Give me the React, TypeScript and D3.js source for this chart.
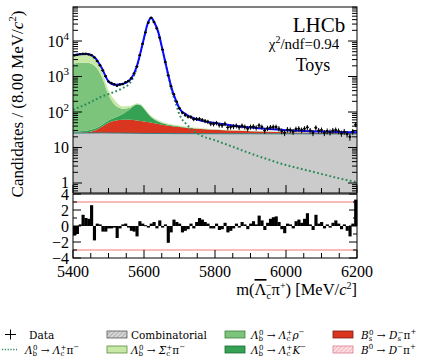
import React from "react";
import * as d3 from "d3";

// fit components, sampled along the mass axis (candidates / 8 MeV)
const curveMass = [5400, 5420, 5440, 5460, 5480, 5500, 5520, 5540, 5560, 5570, 5580, 5590, 5600, 5610, 5620, 5630, 5640, 5650, 5660, 5670, 5680, 5690, 5700, 5720, 5740, 5760, 5800, 5850, 5900, 5950, 6000, 6050, 6100, 6150, 6200];
const combinatorial = [24.8, 24.8, 24.7, 24.7, 24.7, 24.6, 24.6, 24.6, 24.6, 24.6, 24.5, 24.5, 24.5, 24.5, 24.5, 24.5, 24.5, 24.5, 24.5, 24.5, 24.4, 24.4, 24.4, 24.4, 24.4, 24.4, 24.3, 24.3, 24.3, 24.2, 24.2, 24.2, 24.1, 24.1, 24.1];
const b0ToDpi = [0.6, 0.7, 0.8, 0.9, 1.0, 1.0, 0.9, 0.8, 0.7, 0.6, 0.6, 0.5, 0.5, 0.4, 0.4, 0.4, 0.3, 0.3, 0.3, 0.3, 0.2, 0.2, 0.2, 0.2, 0.2, 0.1, 0.1, 0.1, 0.1, 0.1, 0.1, 0.1, 0.1, 0.1, 0.1];
const bsToDspi = [0.5, 0.8, 1.5, 4, 12, 24, 32, 35, 35, 34, 33, 31, 29, 27, 25, 23, 21, 19, 17.5, 16, 15, 14, 13, 11, 9.5, 8.5, 7, 5.5, 4.3, 3.4, 2.7, 2.1, 1.7, 1.4, 1.2];
const lbToLcK = [2, 2.5, 3, 4, 5, 8, 14, 28, 60, 85, 105, 100, 70, 40, 22, 13, 8, 5, 3.5, 2.5, 2, 1.5, 1.2, 1, 0.8, 0.6, 0.4, 0.3, 0.2, 0.2, 0.1, 0.1, 0.1, 0.1, 0.1];
const lbToLcRho = [2300, 2400, 2400, 2000, 1000, 250, 80, 35, 12, 8, 5, 4, 3, 2.5, 2, 1.6, 1.3, 1, 0.8, 0.7, 0.6, 0.5, 0.4, 0.3, 0.2, 0.2, 0.1, 0.1, 0.1, 0.1, 0.1, 0.1, 0.1, 0.1, 0.1];
const lbToScPi = [1500, 1700, 1700, 1300, 500, 100, 50, 20, 15, 10, 8, 7, 6, 5.5, 5, 4.5, 4, 3.6, 3.2, 2.9, 2.6, 2.4, 2.2, 1.8, 1.5, 1.3, 1, 0.8, 0.6, 0.5, 0.4, 0.3, 0.3, 0.2, 0.2];
const lbToLcPi = [115, 140, 170, 215, 270, 320, 380, 470, 650, 950, 1800, 4500, 12000, 30000, 45000, 32000, 18000, 7000, 2500, 900, 350, 170, 85, 45, 30, 22, 16, 10.5, 6.8, 4.6, 3.2, 2.4, 1.8, 1.35, 1.05];

// toy data, 100 bins of 8 MeV from 5400
const binStart = 5400;
const binWidth = 8;
const dataCounts = [
  3929, 4076, 4282, 4374, 4360, 4195, 3991, 3441, 2727, 2084,
  1483, 1025, 720, 657, 603, 551, 593, 618, 689, 751,
  893, 1223, 1918, 3991, 8307, 17463, 32594, 45121, 34398, 22669,
  12458, 5733, 2557, 1079, 534, 318, 195, 127, 96, 82,
  74, 72, 63, 64, 64, 60, 56, 53, 47, 46,
  49, 43, 42, 47, 37, 38, 39, 41, 37, 41,
  38, 34, 38, 39, 36, 42, 38, 30, 35, 37,
  38, 38, 34, 29, 26, 32, 31, 28, 33, 34,
  31, 34, 37, 30, 26, 36, 30, 31, 26, 29,
  27, 30, 31, 29, 25, 28, 24, 20, 28, 44,
];
const pulls = [
  -1.2, -1.0, 0.2, 1.4, 1.0, 0.9, 2.6, -1.8, 0.3, 0.2,
  -0.7, -0.7, -0.3, -0.3, -0.2, -1.5, -0.3, 0.2, 0.3, -0.2,
  -0.6, -0.7, -1.3, 0.6, 0.3, 0.1, -0.2, 0.3, 0.5, -0.3,
  0.7, -0.2, 0.2, -2.1, -0.8, 0.8, 0.5, 0.3, -0.8, -0.6,
  -0.4, 0.3, -0.3, 0.5, 1.0, 0.8, 0.5, 0.3, -0.3, -0.3,
  0.3, -0.5, -0.4, 0.4, -0.8, -0.6, -0.3, 0.3, -0.2, 0.5,
  0.2, -0.4, 0.3, 0.6, 0.2, 1.3, 0.7, -0.5, 0.4, 0.9,
  1.1, 1.2, 0.5, -0.4, -0.9, 0.3, 0.2, -0.3, 0.6, 0.8,
  0.4, 0.9, 1.6, 0.2, -0.5, 1.4, 0.3, 0.5, -0.3, 0.2,
  -0.2, 0.4, 0.7, 0.3, -0.4, 0.2, -0.6, -1.3, 0.3, 3.3,
];

const xTickLabels = [5400, 5600, 5800, 6000, 6200];
const yTickValues = [1, 10, 100, 1000, 10000];
const pullTickLabels = [-4, -2, 0, 2, 4];

const stackKeys = ["comb", "b0", "bs", "lcK", "rho", "scPi"];
const fillColors: Record<string, string> = {
  comb: "#cbcbcb",
  b0: "#f6b8c0",
  bs: "#d9351f",
  lcK: "#34a153",
  rho: "#7cc47c",
  scPi: "#c8e8a6",
};

const serif = "'Liberation Serif', 'Times New Roman', serif";
const legendFont = "'DejaVu Serif', serif";

export default function App() {
  const svgRef = React.useRef<SVGSVGElement>(null);
  const width = 430;
  const height = 364;
  const plot = { left: 73, right: 357, top: 7, bottom: 193 };
  const pullBox = { top: 194, bottom: 258 };

  React.useEffect(() => {
    const svg = d3.select(svgRef.current);
    svg.selectAll("*").remove();

    const x = d3.scaleLinear().domain([5400, 6200]).range([plot.left, plot.right]);
    const y = d3.scaleLog().domain([0.523, 90800]).range([plot.bottom, plot.top]);
    const yPull = d3.scaleLinear().domain([-4, 4]).range([pullBox.bottom, pullBox.top]);

    const defs = svg.append("defs");
    defs
      .append("clipPath")
      .attr("id", "mainClip")
      .append("rect")
      .attr("x", plot.left)
      .attr("y", plot.top)
      .attr("width", plot.right - plot.left)
      .attr("height", plot.bottom - plot.top);

    const hatch = (id: string, bg: string, fg: string) => {
      const p = defs
        .append("pattern")
        .attr("id", id)
        .attr("width", 3)
        .attr("height", 3)
        .attr("patternUnits", "userSpaceOnUse")
        .attr("patternTransform", "rotate(45)");
      p.append("rect").attr("width", 3).attr("height", 3).attr("fill", bg);
      p.append("line").attr("x1", 0).attr("y1", 0).attr("x2", 0).attr("y2", 3).attr("stroke", fg).attr("stroke-width", 1);
    };
    hatch("hatchGray", "#d6d6d6", "#8a8a8a");
    hatch("hatchPink", "#fde0e4", "#f08a98");

    /* stacked background components */
    const rows = curveMass.map((m, i) => ({
      m,
      comb: combinatorial[i],
      b0: b0ToDpi[i],
      bs: bsToDspi[i],
      lcK: lbToLcK[i],
      rho: lbToLcRho[i],
      scPi: lbToScPi[i],
    }));
    const layers = d3.stack<any>().keys(stackKeys)(rows);

    const main = svg.append("g").attr("clip-path", "url(#mainClip)");

    layers.forEach((layer) => {
      const area = d3
        .area<any>()
        .x((d) => x(d.data.m))
        .y0((d) => (layer.key === "comb" ? plot.bottom : y(d[0])))
        .y1((d) => y(d[1]))
        .curve(d3.curveMonotoneX);
      main.append("path").attr("d", area(layer)).attr("fill", fillColors[layer.key]);
    });

    // thin edge on top of the combinatorial
    const combTop = layers[1];
    main
      .append("path")
      .attr(
        "d",
        d3
          .line<any>()
          .x((d) => x(d.data.m))
          .y((d) => y(d[1]))
          .curve(d3.curveMonotoneX)(combTop)
      )
      .attr("fill", "none")
      .attr("stroke", "#2d7f86")
      .attr("stroke-width", 1);

    /* signal, dotted */
    const sigLine = d3
      .line<number>()
      .x((_, i) => x(curveMass[i]))
      .y((d) => y(d))
      .curve(d3.curveMonotoneX);
    main
      .append("path")
      .attr("d", sigLine(lbToLcPi))
      .attr("fill", "none")
      .attr("stroke", "#2b8a57")
      .attr("stroke-width", 2)
      .attr("stroke-dasharray", "1.8,2.4");

    /* total fit */
    const top = layers[layers.length - 1];
    const total = curveMass.map((m, i) => top[i][1] + lbToLcPi[i]);
    main
      .append("path")
      .attr("d", sigLine(total))
      .attr("fill", "none")
      .attr("stroke", "#0a0aff")
      .attr("stroke-width", 2);

    /* data points */
    const pts = main.append("g").attr("stroke", "#000").attr("stroke-width", 1);
    dataCounts.forEach((n, i) => {
      const m = binStart + binWidth * (i + 0.5);
      const e = Math.sqrt(n);
      pts.append("line").attr("x1", x(m)).attr("x2", x(m)).attr("y1", y(n - e)).attr("y2", y(n + e));
      pts
        .append("line")
        .attr("x1", x(m - binWidth / 2))
        .attr("x2", x(m + binWidth / 2))
        .attr("y1", y(n))
        .attr("y2", y(n));
      pts.append("circle").attr("cx", x(m)).attr("cy", y(n)).attr("r", 1.2).attr("fill", "#000").attr("stroke", "none");
    });

    /* residual panel */
    [-3, 3].forEach((v) => {
      svg
        .append("line")
        .attr("x1", plot.left)
        .attr("x2", plot.right)
        .attr("y1", yPull(v))
        .attr("y2", yPull(v))
        .attr("stroke", "#f7a3a3")
        .attr("stroke-width", 1.5);
    });
    pulls.forEach((p, i) => {
      const x0 = x(binStart + binWidth * i);
      const x1 = x(binStart + binWidth * (i + 1));
      svg
        .append("rect")
        .attr("x", x0)
        .attr("width", x1 - x0 + 0.3)
        .attr("y", Math.min(yPull(p), yPull(0)))
        .attr("height", Math.max(Math.abs(yPull(p) - yPull(0)), 1))
        .attr("fill", "#000");
    });

    /* frames */
    svg
      .append("rect")
      .attr("x", plot.left)
      .attr("y", plot.top)
      .attr("width", plot.right - plot.left)
      .attr("height", plot.bottom - plot.top)
      .attr("fill", "none")
      .attr("stroke", "#000");
    svg
      .append("rect")
      .attr("x", plot.left)
      .attr("y", pullBox.top)
      .attr("width", plot.right - plot.left)
      .attr("height", pullBox.bottom - pullBox.top)
      .attr("fill", "none")
      .attr("stroke", "#000");

    /* ticks */
    const ticks = svg.append("g").attr("stroke", "#000").attr("stroke-width", 1);
    for (let d = -1; d <= 4; d++) {
      for (let k = 1; k <= 9; k++) {
        const v = k * Math.pow(10, d);
        if (v < 0.523 || v > 90800) continue;
        const len = k === 1 ? 9 : 5;
        const yy = y(v);
        ticks.append("line").attr("x1", plot.left).attr("x2", plot.left + len).attr("y1", yy).attr("y2", yy);
        ticks.append("line").attr("x1", plot.right - len).attr("x2", plot.right).attr("y1", yy).attr("y2", yy);
      }
    }
    for (let v = -4; v <= 4; v += 1) {
      const len = v % 2 === 0 ? 8 : 4;
      const yy = yPull(v);
      ticks.append("line").attr("x1", plot.left).attr("x2", plot.left + len).attr("y1", yy).attr("y2", yy);
      ticks.append("line").attr("x1", plot.right - len).attr("x2", plot.right).attr("y1", yy).attr("y2", yy);
    }
    for (let m = 5400; m <= 6200; m += 50) {
      const len = m % 200 === 0 ? 8 : 5;
      const xx = x(m);
      ticks.append("line").attr("x1", xx).attr("x2", xx).attr("y1", plot.bottom).attr("y2", plot.bottom - len);
      ticks.append("line").attr("x1", xx).attr("x2", xx).attr("y1", pullBox.bottom).attr("y2", pullBox.bottom - len);
    }

    /* tick labels */
    const labels = svg.append("g").attr("font-family", serif).attr("font-size", 16).attr("fill", "#000");
    yTickValues.forEach((v) => {
      const e = Math.round(Math.log10(v));
      const t = labels
        .append("text")
        .attr("x", 69)
        .attr("y", y(v) + (e === 0 ? 4.5 : 5.5))
        .attr("text-anchor", "end");
      if (e === 0) t.text("1");
      else if (e === 1) t.text("10");
      else t.html(`10<tspan font-size="11" dy="-7">${e}</tspan>`);
    });
    pullTickLabels.forEach((v) => {
      labels
        .append("text")
        .attr("x", 69)
        .attr("y", yPull(v) + (v === 4 ? 6 : 5.5))
        .attr("text-anchor", "end")
        .text(v < 0 ? `\u2212${-v}` : `${v}`);
    });
    xTickLabels.forEach((v) => {
      labels.append("text").attr("x", x(v)).attr("y", 277).attr("text-anchor", "middle").text(v);
    });

    /* axis titles */
    labels
      .append("text")
      .attr("x", plot.right)
      .attr("y", 295)
      .attr("text-anchor", "end")
      .attr("font-size", 16.5)
      .html(
        'm(<tspan text-decoration="overline">\u039B</tspan><tspan font-size="10" dy="4">c</tspan><tspan font-size="10" dx="-5" dy="-10">\u2212</tspan><tspan dy="6">\u03C0</tspan><tspan font-size="10" dy="-6">+</tspan><tspan dy="6">) [MeV/</tspan><tspan font-style="italic">c</tspan><tspan font-size="10" dy="-6">2</tspan><tspan dy="6">]</tspan>'
      );
    labels
      .append("text")
      .attr("transform", "translate(23,104) rotate(-90)")
      .attr("text-anchor", "middle")
      .attr("font-size", 17)
      .html('Candidates / (8.00 MeV/<tspan font-style="italic">c</tspan><tspan font-size="11" dy="-7">2</tspan><tspan dy="7">)</tspan>');

    /* annotations */
    labels.append("text").attr("x", 319).attr("y", 32).attr("text-anchor", "middle").attr("font-size", 21).text("LHCb");
    labels
      .append("text")
      .attr("x", 304)
      .attr("y", 49)
      .attr("text-anchor", "middle")
      .attr("font-size", 15)
      .html('\u03C7<tspan font-size="10" dy="-6">2</tspan><tspan dy="6">/ndf=0.94</tspan>');
    labels.append("text").attr("x", 313).attr("y", 71).attr("text-anchor", "middle").attr("font-size", 18).text("Toys");

    /* legend */
    const leg = svg.append("g").attr("font-family", legendFont).attr("font-size", 10.5).attr("fill", "#000");
    const ss = (sub: string, sup: string, w: number) =>
      `<tspan font-size="7" dy="2">${sub}</tspan><tspan font-size="7" dx="-${w}" dy="-6">${sup}</tspan>`;
    const it = (s: string) => `<tspan font-style="italic">${s}</tspan>`;
    const row1 = 334.5;
    const row2 = 349.5;

    leg.append("line").attr("x1", 5).attr("x2", 16).attr("y1", row1).attr("y2", row1).attr("stroke", "#000");
    leg.append("line").attr("x1", 10.5).attr("x2", 10.5).attr("y1", row1 - 5).attr("y2", row1 + 5).attr("stroke", "#000");
    leg.append("text").attr("x", 29).attr("y", row1 + 4).text("Data");

    leg
      .append("line")
      .attr("x1", 2)
      .attr("x2", 17)
      .attr("y1", row2)
      .attr("y2", row2)
      .attr("stroke", "#2b8a57")
      .attr("stroke-width", 1.3)
      .attr("stroke-dasharray", "1.2,1.6");

    const lam = `${it("\u039B")}${ss("b", "0", 4.2)}<tspan dy="4"> \u2192 </tspan>${it("\u039B")}${ss("c", "+", 3.8)}`;
    leg
      .append("text")
      .attr("x", 25)
      .attr("y", row2 + 4)
      .html(`${lam}<tspan dy="4">${"\u03C0"}</tspan><tspan font-size="7" dy="-4.5">\u2212</tspan>`);

    const box = (bx: number, by: number, fill: string, stroke: string) => {
      leg
        .append("rect")
        .attr("x", bx)
        .attr("y", by - 3.5)
        .attr("width", 20)
        .attr("height", 7)
        .attr("fill", fill)
        .attr("stroke", stroke)
        .attr("stroke-width", 0.8);
    };

    box(107, row1, "url(#hatchGray)", "#555");
    leg.append("text").attr("x", 131).attr("y", row1 + 4).text("Combinatorial");

    box(107, row2, fillColors.scPi, "#5b8a3c");
    leg
      .append("text")
      .attr("x", 131)
      .attr("y", row2 + 4)
      .html(
        `${it("\u039B")}${ss("b", "0", 4.2)}<tspan dy="4"> \u2192 </tspan>${it("\u03A3")}${ss("c", "+", 3.8)}<tspan dy="4">\u03C0</tspan><tspan font-size="7" dy="-4.5">\u2212</tspan>`
      );

    box(225, row1, fillColors.rho, "#3f7f3f");
    leg
      .append("text")
      .attr("x", 251)
      .attr("y", row1 + 4)
      .html(`${lam}<tspan dy="4">${it("\u03C1")}</tspan><tspan font-size="7" dy="-4.5">\u2212</tspan>`);

    box(225, row2, fillColors.lcK, "#1f6a36");
    leg
      .append("text")
      .attr("x", 251)
      .attr("y", row2 + 4)
      .html(`${lam}<tspan dy="4">${it("K")}</tspan><tspan font-size="7" dy="-4.5">\u2212</tspan>`);

    box(333, row1, fillColors.bs, "#7a1d10");
    leg
      .append("text")
      .attr("x", 361)
      .attr("y", row1 + 4)
      .html(
        `${it("B")}${ss("s", "0", 3.3)}<tspan dy="4"> \u2192 </tspan>${it("D")}${ss("s", "\u2212", 3.3)}<tspan dy="4">\u03C0</tspan><tspan font-size="7" dy="-4.5">+</tspan>`
      );

    box(333, row2, "url(#hatchPink)", "#d98090");
    leg
      .append("text")
      .attr("x", 361)
      .attr("y", row2 + 4)
      .html(
        `${it("B")}<tspan font-size="7" dy="-4.5">0</tspan><tspan dy="4.5"> \u2192 </tspan>${it("D")}<tspan font-size="7" dy="-4.5">\u2212</tspan><tspan dy="4.5">\u03C0</tspan><tspan font-size="7" dy="-4.5">+</tspan>`
      );
    // eslint-disable-next-line
  }, []);

  return (
    <svg
      ref={svgRef}
      width={width}
      height={height}
      style={{ position: "absolute", left: 0, top: 0, background: "#fff" }}
    />
  );
}
